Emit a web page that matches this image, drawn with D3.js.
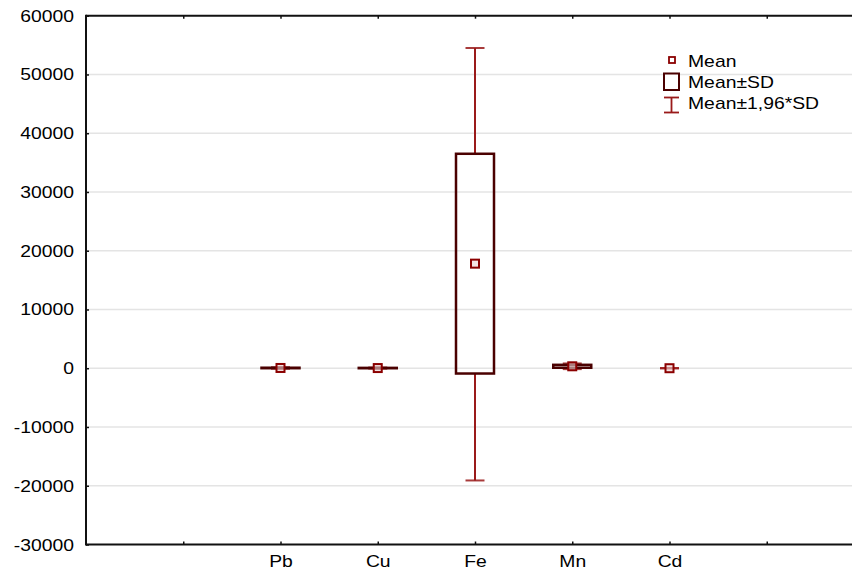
<!DOCTYPE html>
<html><head><meta charset="utf-8">
<script src="https://cdn.jsdelivr.net/npm/d3@7"></script>
<style>body{margin:0;background:#fff}svg{display:block}text{font-family:"Liberation Sans",Arial,sans-serif;font-size:16px;fill:#000}</style>
</head><body><svg id="c" width="852" height="571"></svg>
<script>
// data
const categories = ["", "Pb", "Cu", "Fe", "Mn", "Cd", ""];
const elements = ["Pb", "Cu", "Fe", "Mn", "Cd"];
const means   = [45, 30, 17800, 330, 2];
const sdLow   = [5, 0, -900, 80, 2];
const sdHigh  = [85, 60, 36500, 580, 2];
const ciLow   = [-75, -60, -19100, -150, -40];
const ciHigh  = [165, 120, 54500, 810, 45];
const yTicks  = [-30000, -20000, -10000, 0, 10000, 20000, 30000, 40000, 50000, 60000];
const legendLabels = ["Mean", "Mean±SD", "Mean±1,96*SD"];

const svg = d3.select("#c");
const L = 86, T = 15.7, B = 544.5, R = 864;
const x = d3.scaleLinear().domain([0, categories.length + 1]).range([L, R]);
const y = d3.scaleLinear().domain([-30000, 60000]).range([B, T]);
const SX = 1.21;
const boxCol = "#4a0000", whCol = "#9a1a1a", mCol = "#8b0000";

// grid
svg.append("g").selectAll("line").data(yTicks.slice(1, -1)).join("line")
  .attr("x1", L).attr("x2", 852).attr("y1", d => y(d)).attr("y2", d => y(d))
  .attr("stroke", "#e4e4e4").attr("stroke-width", 1.5);

// axes
const yAxis = d3.axisLeft(y).tickValues(yTicks).tickSize(-3).tickFormat(d => String(d));
const gy = svg.append("g").attr("transform", `translate(${L},0)`).call(yAxis);
gy.select(".domain").remove();
gy.selectAll(".tick line").attr("stroke", "#111").attr("stroke-width", 1.5);
gy.selectAll(".tick text").attr("x", null).attr("dy", null).attr("fill", "#000")
  .attr("text-anchor", "end").style("font-size", null)
  .attr("transform", `translate(-12,5.5) scale(${SX},1)`);

const xTickVals = categories.map((c, i) => i + 1);
const xBottom = d3.axisBottom(x).tickValues(xTickVals).tickSize(-3)
  .tickFormat((d) => categories[d - 1]);
const gx = svg.append("g").attr("transform", `translate(0,${B})`).call(xBottom);
gx.select(".domain").remove();
gx.selectAll(".tick line").attr("stroke", "#111").attr("stroke-width", 1.5);
gx.selectAll(".tick text").attr("y", null).attr("dy", null).attr("fill", "#000")
  .style("font-size", null).attr("text-anchor", "middle")
  .attr("transform", `translate(0,22.8) scale(${SX},1)`);

const xTop = d3.axisTop(x).tickValues(xTickVals).tickSize(-3).tickFormat("");
const gt = svg.append("g").attr("transform", `translate(0,${T})`).call(xTop);
gt.select(".domain").remove();
gt.selectAll(".tick line").attr("stroke", "#111").attr("stroke-width", 1.5);

// frame lines
svg.append("line").attr("x1", L).attr("x2", 852).attr("y1", T).attr("y2", T).attr("stroke", "#111").attr("stroke-width", 2);
svg.append("line").attr("x1", L).attr("x2", 852).attr("y1", B).attr("y2", B).attr("stroke", "#111").attr("stroke-width", 2);
svg.append("line").attr("x1", L).attr("x2", L).attr("y1", T - 1).attr("y2", B + 1).attr("stroke", "#111").attr("stroke-width", 2);

// marks
const data = elements.map((e, i) => ({e, xi: categories.indexOf(e) + 1, m: means[i], sl: sdLow[i], sh: sdHigh[i], cl: ciLow[i], ch: ciHigh[i]}));
const g = svg.append("g");
const bw = 38, cw = 19;
data.forEach(d => {
  const cx = x(d.xi);
  g.append("line").attr("x1", cx).attr("x2", cx).attr("y1", y(d.ch)).attr("y2", y(d.sh)).attr("stroke", whCol).attr("stroke-width", 2);
  g.append("line").attr("x1", cx).attr("x2", cx).attr("y1", y(d.sl)).attr("y2", y(d.cl)).attr("stroke", whCol).attr("stroke-width", 2);
  [d.ch, d.cl].forEach(v => g.append("line").attr("x1", cx - cw / 2).attr("x2", cx + cw / 2)
    .attr("y1", y(v)).attr("y2", y(v)).attr("stroke", whCol).attr("stroke-width", 2).attr("opacity", 0.85));
  g.append("rect").attr("x", cx - bw / 2).attr("width", bw)
    .attr("y", y(d.sh)).attr("height", y(d.sl) - y(d.sh))
    .attr("fill", "none").attr("stroke", boxCol).attr("stroke-width", 2.5);
  g.append("rect").attr("x", cx - 4).attr("y", y(d.m) - 4).attr("width", 8).attr("height", 8)
    .attr("fill", "#ecd2d2").attr("fill-opacity", 0.6).attr("stroke", mCol).attr("stroke-width", 2);
});

// legend
const lg = svg.append("g");
lg.append("rect").attr("x", 669).attr("y", 57).attr("width", 6).attr("height", 6)
  .attr("fill", "#fff").attr("stroke", mCol).attr("stroke-width", 1.8);
lg.append("rect").attr("x", 664).attr("y", 73.5).attr("width", 15).attr("height", 16.5)
  .attr("fill", "#fff").attr("stroke", boxCol).attr("stroke-width", 2);
lg.append("line").attr("x1", 671.5).attr("x2", 671.5).attr("y1", 97.5).attr("y2", 112.5).attr("stroke", whCol).attr("stroke-width", 1.8);
[97.5, 112.5].forEach(v => lg.append("line").attr("x1", 664).attr("x2", 679).attr("y1", v).attr("y2", v).attr("stroke", whCol).attr("stroke-width", 1.8));
const lys = [66.5, 88, 109];
legendLabels.forEach((t, i) => lg.append("text").text(t)
  .attr("transform", `translate(688,${lys[i]}) scale(${SX},1)`));
</script></body></html>
